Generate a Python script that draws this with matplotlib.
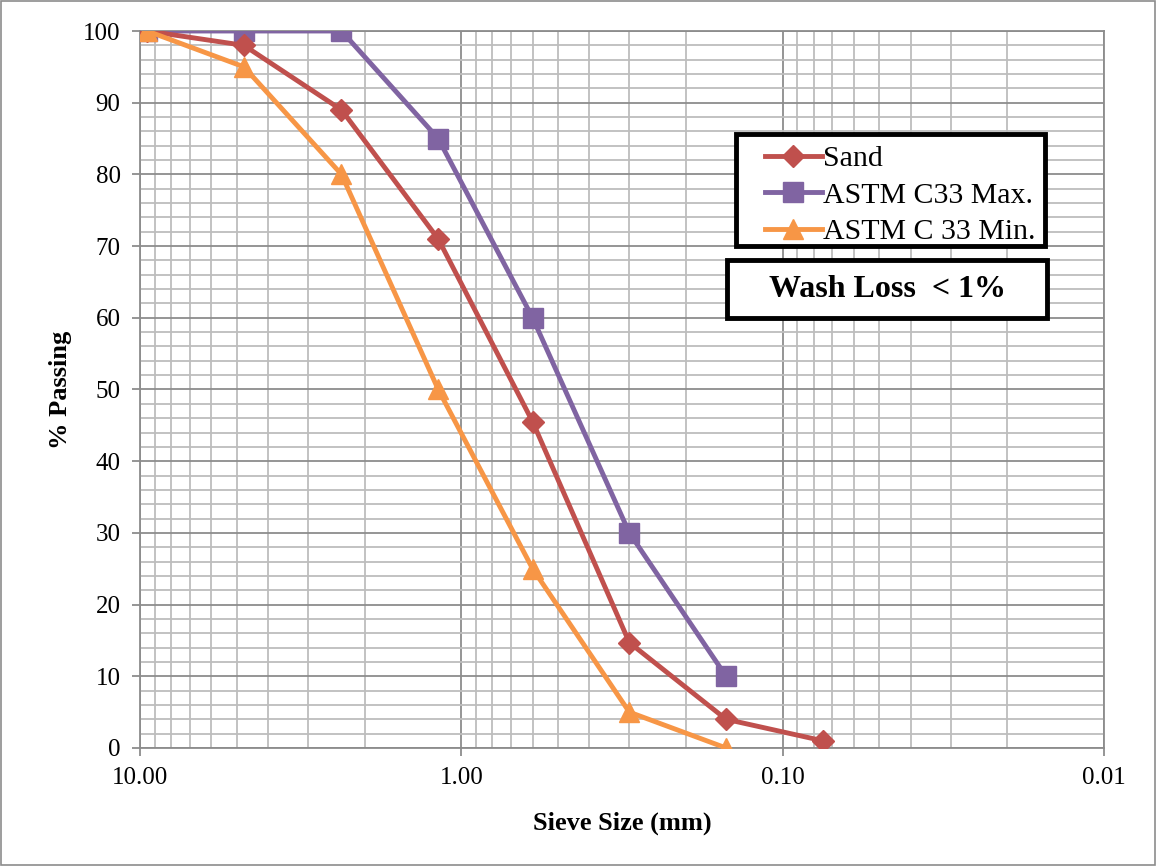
import numpy as np
import matplotlib.pyplot as plt
from matplotlib.ticker import FixedLocator, FuncFormatter, MultipleLocator
from matplotlib.patches import Rectangle

plt.rcParams['font.family'] = ['Liberation Serif', 'DejaVu Serif']

# sieve sizes (mm) and % passing
sieve = [9.5, 4.75, 2.36, 1.18, 0.6, 0.3, 0.15, 0.075]
sand = [100, 98, 89, 71, 45.5, 14.7, 4, 1]
c33_max = [100, 100, 100, 85, 60, 30, 10]
c33_min = [100, 95, 80, 50, 25, 5, 0]

fig = plt.figure(figsize=(11.56, 8.66), dpi=100)
ax = fig.add_axes([0.1211, 0.1363, 0.8339, 0.8279])

ax.plot(sieve, sand, color='#C0504D', lw=3.5, marker='D', ms=11.5, label='Sand', zorder=5)
ax.plot(sieve[:7], c33_max, color='#8064A2', lw=3.5, marker='s', ms=15,
        label='ASTM C33 Max.', zorder=4)
ax.plot(sieve[:7], c33_min, color='#F79646', lw=3.5, marker='^', ms=15,
        label='ASTM C 33 Min.', zorder=6)

ax.set_xscale('log')
ax.set_xlim(10, 0.01)
ax.set_ylim(0, 100)

ax.xaxis.set_major_locator(FixedLocator([10, 1, 0.1, 0.01]))
minors = [m * 10.0 ** e for e in (-2, -1, 0) for m in range(2, 10)]
ax.xaxis.set_minor_locator(FixedLocator(minors))
ax.xaxis.set_major_formatter(FuncFormatter(lambda v, p: f'{v:.2f}'))
ax.xaxis.set_minor_formatter(FuncFormatter(lambda v, p: ''))
ax.yaxis.set_major_locator(MultipleLocator(10))
ax.yaxis.set_minor_locator(MultipleLocator(2))

ax.grid(which='major', color='#8c8c8c', lw=1.3)
ax.grid(which='minor', color='#bdbdbd', lw=1.3)
ax.set_axisbelow(True)

for s in ax.spines.values():
    s.set_color('#8c8c8c')
    s.set_linewidth(1.3)

ax.tick_params(which='major', labelsize=18, color='#8c8c8c', length=6, width=1.3, pad=8)
ax.tick_params(which='minor', length=0)

ax.set_xlabel('Sieve Size (mm)', fontsize=19, fontweight='bold', labelpad=16)
ax.set_ylabel('% Passing', fontsize=19, fontweight='bold', labelpad=8)

# legend without its own frame; box drawn separately
leg = ax.legend(loc='upper left', bbox_to_anchor=(0.6483, 0.8403), fontsize=21.5,
                frameon=False, handlelength=1.9, handletextpad=0.05,
                borderpad=0, labelspacing=0.32, borderaxespad=0)
leg.set_zorder(12)
ax.add_patch(Rectangle((0.6183, 0.7001), 0.3206, 0.1562, transform=ax.transAxes,
                       fc='white', ec='black', lw=3.5, zorder=9, clip_on=False))

# wash loss note box
ax.add_patch(Rectangle((0.609, 0.5997), 0.332, 0.0809, transform=ax.transAxes,
                       fc='white', ec='black', lw=3.5, zorder=10, clip_on=False))
ax.text(0.775, 0.640, 'Wash Loss  < 1%', transform=ax.transAxes, fontsize=23,
        fontweight='bold', ha='center', va='center', zorder=11)

fig.patches.append(Rectangle((0.001, 0.001), 0.998, 0.998, transform=fig.transFigure,
                             fill=False, ec='#8c8c8c', lw=1.2))

fig.savefig('out.png', dpi=100)
